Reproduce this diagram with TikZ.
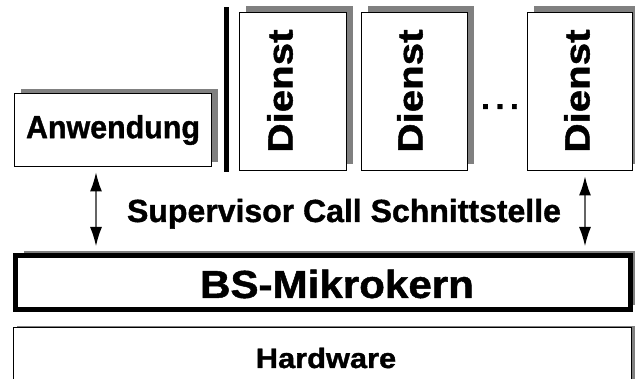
\documentclass[tikz,border=0pt]{standalone}
\usepackage{fontspec}
\setmainfont{Liberation Sans}[BoldFont={Liberation Sans Bold}, BoldFeatures={FakeBold=1.2}]
\usetikzlibrary{arrows.meta,shadows,calc}
\definecolor{shadowgray}{RGB}{128,128,128}
\definecolor{linegray}{RGB}{100,100,100}
\tikzset{
  box/.style={draw=black, fill=white, line width=1pt, inner sep=0pt, outer sep=0pt},
  shadowed/.style 2 args={general shadow={fill=shadowgray, shadow xshift=#1pt, shadow yshift=#2pt}},
  bigtext/.style={font=\bfseries\fontsize{32}{36}\selectfont},
  diensttext/.style={font=\bfseries\fontsize{35}{40}\selectfont, rotate=90, inner sep=0pt},
  callarrow/.style={draw=linegray, line width=1.2pt,
     {Latex[length=19pt,width=12pt,black]}-{Latex[length=19pt,width=12pt,black]},
     shorten <=6pt, shorten >=7pt},
}
\begin{document}
\begin{tikzpicture}[x=1pt,y=-1pt]
\useasboundingbox (0,0) rectangle (635,379);
\clip (0,0) rectangle (635,379);
% Anwendung
\node[box, shadowed={6}{4}, minimum width=197pt, minimum height=73pt, bigtext] (anw) at (113,130) {\scalebox{0.95}[1]{Anwendung}};
% separator bar
\node[fill=black, inner sep=0pt, minimum width=5pt, minimum height=165pt] (bar) at (226,89.5) {};
% Dienst boxes
\node[box, shadowed={6}{6}, minimum width=107pt, minimum height=158pt] (d1) at (293,91.5) {};
\node[box, shadowed={6}{6}, minimum width=106pt, minimum height=158pt] (d2) at (414.5,91.5) {};
\node[box, shadowed={6}{6}, minimum width=105pt, minimum height=158pt] (d3) at (580,91.5) {};
\node[diensttext] (t1) at (280,91) {\scalebox{1.15}[1]{Dienst}};
\node[diensttext] (t2) at (410,91) {\scalebox{1.15}[1]{Dienst}};
\node[diensttext] (t3) at (577,91) {\scalebox{1.15}[1]{Dienst}};
% dots
\node[font=\bfseries\fontsize{32}{36}\selectfont, inner sep=0pt, anchor=base] (dots) at (500,109) {.\kern5.6pt.\kern5.6pt.};
% Mikrokern
\node[draw=black, fill=white, line width=5pt, inner sep=0pt, outer sep=2.5pt, shadowed={8}{4},
      minimum width=615pt, minimum height=54pt] (bs) at (323,282.5) {};
\node[font=\bfseries\fontsize{39}{44}\selectfont, inner sep=0pt] (bst) at (337,284) {\scalebox{1.08}[1]{BS-Mikrokern}};
% Hardware
\node[box, shadowed={3}{2}, minimum width=618pt, minimum height=80pt] (hw) at (322.5,368) {};
\node[font=\bfseries\fontsize{28}{32}\selectfont, inner sep=0pt, anchor=base] (hwt) at (326,368) {\scalebox{1.1}[1]{Hardware}};
% Supervisor call
\node[font=\bfseries\fontsize{32}{36}\selectfont, inner sep=0pt, anchor=base] (svc) at (344,222) {Supervisor Call Schnittstelle};
% arrows
\coordinate (ax1) at (96,0);
\coordinate (ax2) at (585,0);
\draw[callarrow] (anw.south -| ax1) -- (bs.north -| ax1);
\draw[callarrow] (d3.south -| ax2) -- (bs.north -| ax2);
\end{tikzpicture}
\end{document}
